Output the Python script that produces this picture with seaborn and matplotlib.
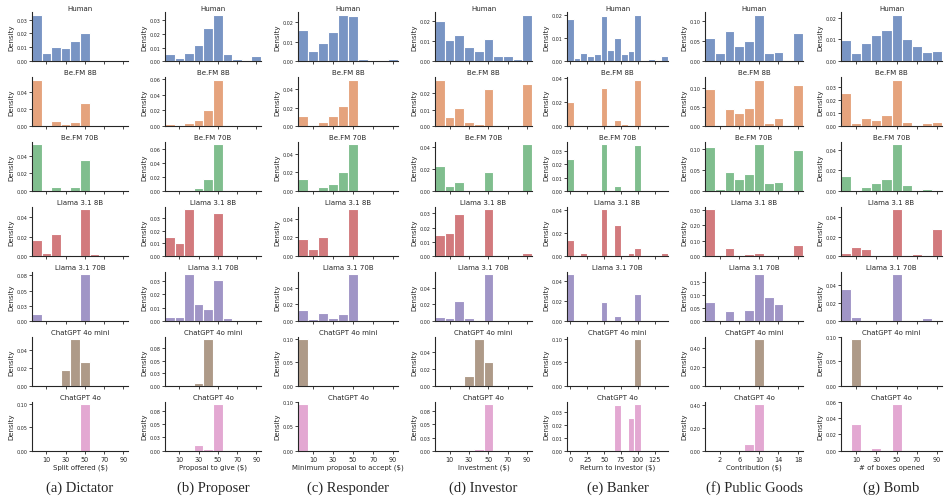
import numpy as np
import pandas as pd
import matplotlib
matplotlib.use("Agg")
import matplotlib.pyplot as plt
from matplotlib.ticker import MaxNLocator, FormatStrFormatter
import seaborn as sns

sns.set_theme(style="ticks")

models = ["Human", "Be.FM 8B", "Be.FM 70B", "Llama 3.1 8B", "Llama 3.1 70B",
          "ChatGPT 4o mini", "ChatGPT 4o"]
captions = ["(a) Dictator", "(b) Proposer", "(c) Responder", "(d) Investor",
            "(e) Banker", "(f) Public Goods", "(g) Bomb"]
xlabels = ["Split offered ($)", "Proposal to give ($)", "Minimum proposal to accept ($)",
           "Investment ($)", "Return to investor ($)", "Contribution ($)", "# of boxes opened"]

# bin centres
dollar_bins = list(range(0, 100, 10))
banker_bins = list(range(0, 150, 10))
goods_bins = list(range(0, 20, 2))

dollar_ticks = [10, 30, 50, 70, 90]
banker_ticks = [0, 25, 50, 75, 100, 125]
goods_ticks = [2, 6, 10, 14, 18]

# densities, one row per model
dictator = [
    [0.0335, 0.0063, 0.0102, 0.0097, 0.0148, 0.0202, 0, 0, 0, 0],
    [0.0545, 0, 0.0055, 0.0025, 0.005, 0.0275, 0, 0, 0, 0],
    [0.053, 0, 0.005, 0, 0.0045, 0.035, 0, 0, 0, 0],
    [0.0168, 0.0035, 0.0223, 0, 0.0008, 0.048, 0.002, 0.0005, 0.0005, 0],
    [0.0115, 0.0005, 0.001, 0, 0.002, 0.077, 0, 0, 0, 0],
    [0, 0, 0, 0.018, 0.052, 0.027, 0, 0, 0, 0],
    [0, 0, 0, 0, 0, 0.1, 0, 0, 0, 0],
]
proposer = [
    [0.0055, 0.0025, 0.006, 0.012, 0.024, 0.034, 0.0055, 0.002, 0, 0.004],
    [0.003, 0, 0.004, 0.0075, 0.021, 0.059, 0.0015, 0, 0, 0],
    [0.0015, 0, 0.0015, 0.005, 0.017, 0.066, 0.001, 0, 0, 0.0015],
    [0.015, 0.0105, 0.037, 0, 0, 0.034, 0, 0, 0, 0],
    [0.003, 0.003, 0.035, 0.013, 0.009, 0.031, 0.0025, 0, 0, 0],
    [0, 0, 0, 0.005, 0.093, 0, 0, 0, 0, 0],
    [0, 0, 0, 0.01, 0.004, 0.0875, 0, 0, 0, 0],
]
responder = [
    [0.0157, 0.005, 0.0095, 0.015, 0.0236, 0.0231, 0.0012, 0, 0, 0.0012],
    [0.0105, 0, 0.0044, 0.011, 0.0215, 0.050, 0, 0, 0, 0],
    [0.0125, 0, 0.0048, 0.008, 0.021, 0.050, 0, 0, 0, 0],
    [0.018, 0.0075, 0.0205, 0, 0, 0.050, 0, 0, 0, 0],
    [0.013, 0.002, 0.010, 0.0033, 0.008, 0.056, 0.0008, 0, 0, 0],
    [0.1, 0, 0, 0, 0, 0, 0, 0, 0, 0],
    [0.0955, 0, 0, 0.0008, 0.0005, 0.0005, 0, 0, 0, 0],
]
investor = [
    [0.0198, 0.0108, 0.0132, 0.0071, 0.0051, 0.0112, 0.0024, 0.0024, 0.001, 0.0232],
    [0.028, 0.0055, 0.0112, 0.0027, 0.0014, 0.0224, 0, 0, 0, 0.0255],
    [0.0222, 0.0046, 0.0086, 0.0012, 0, 0.0172, 0, 0, 0, 0.042],
    [0.0148, 0.0164, 0.0298, 0, 0, 0.0329, 0, 0, 0, 0.0021],
    [0.0045, 0.0037, 0.0237, 0.0033, 0, 0.056, 0, 0, 0, 0],
    [0, 0, 0, 0.012, 0.0553, 0.0287, 0, 0, 0, 0],
    [0, 0, 0, 0, 0.003, 0.089, 0, 0, 0, 0],
]
banker = [
    [0.0185, 0.0015, 0.0035, 0.0025, 0.0033, 0.0198, 0.0047, 0.010, 0.003, 0.0043,
     0.0203, 0, 0.0011, 0, 0.0022],
    [0.0198, 0, 0, 0, 0, 0.0318, 0, 0.005, 0.0015, 0, 0.0385, 0, 0, 0, 0],
    [0.0235, 0, 0, 0, 0, 0.0345, 0, 0.004, 0, 0, 0.034, 0, 0, 0, 0],
    [0.014, 0, 0.0025, 0, 0, 0.041, 0, 0.027, 0, 0.0025, 0.0068, 0, 0, 0, 0.0025],
    [0.0465, 0, 0, 0, 0, 0.019, 0, 0.0045, 0, 0, 0.0265, 0, 0, 0, 0],
    [0, 0, 0, 0, 0, 0, 0, 0, 0, 0, 0.1, 0, 0, 0, 0],
    [0, 0, 0, 0, 0, 0, 0, 0.0355, 0, 0.0255, 0.0365, 0, 0, 0, 0],
]
public_goods = [
    [0.059, 0.022, 0.075, 0.039, 0.050, 0.117, 0.022, 0.023, 0.004, 0.070],
    [0.097, 0, 0.045, 0.035, 0.048, 0.123, 0.008, 0.021, 0, 0.108],
    [0.107, 0.006, 0.046, 0.030, 0.042, 0.112, 0.019, 0.022, 0, 0.099],
    [0.305, 0, 0.052, 0.003, 0.012, 0.020, 0.002, 0, 0, 0.075],
    [0.072, 0, 0.038, 0, 0.042, 0.178, 0.092, 0.065, 0, 0],
    [0, 0, 0, 0, 0, 0.5, 0, 0, 0, 0],
    [0, 0, 0.001, 0, 0.06, 0.41, 0, 0, 0, 0],
]
bomb = [
    [0.0099, 0.0038, 0.0082, 0.0121, 0.0143, 0.0214, 0.0104, 0.0072, 0.0043, 0.0047],
    [0.0255, 0.0024, 0.0066, 0.0047, 0.009, 0.036, 0.0034, 0.001, 0.0026, 0.0032],
    [0.015, 0.001, 0.0042, 0.0081, 0.0114, 0.0452, 0.0062, 0.001, 0.0019, 0],
    [0.0034, 0.0093, 0.0072, 0, 0, 0.048, 0, 0.0024, 0, 0.0276],
    [0.0354, 0.0046, 0, 0, 0, 0.052, 0, 0, 0.003, 0],
    [0, 0.0958, 0, 0, 0, 0, 0, 0, 0, 0],
    [0, 0.0333, 0, 0.0033, 0, 0.0575, 0, 0, 0, 0],
]

games = [dictator, proposer, responder, investor, banker, public_goods, bomb]
game_bins = [dollar_bins, dollar_bins, dollar_bins, dollar_bins, banker_bins, goods_bins, dollar_bins]
game_ticks = [dollar_ticks] * 4 + [banker_ticks, goods_ticks, dollar_ticks]

colors = sns.color_palette("deep", 7)

W, H = 948, 502
fig = plt.figure(figsize=(W / 100, H / 100), dpi=100)

# pixel layout of the grid
col_left = [32, 165, 298, 435, 567, 705, 841]
col_width = [96, 96, 100, 97, 101, 98, 101]
row_bottom0, row_step, ax_h = 62.3, 64.9, 49

for c, data in enumerate(games):
    centers = game_bins[c]
    step = centers[1] - centers[0]
    edges = [x - step / 2 for x in centers] + [centers[-1] + step / 2]
    for r, heights in enumerate(data):
        df = pd.DataFrame({"value": centers, "density": heights})
        bottom_px = row_bottom0 + row_step * r
        ax = fig.add_axes([col_left[c] / W, 1 - bottom_px / H, col_width[c] / W, ax_h / H])
        sns.histplot(data=df, x="value", weights="density", bins=edges, color=colors[r],
                     alpha=0.75, edgecolor="white", linewidth=0.8, ax=ax)
        ax.set_xlim(edges[0], edges[-1])
        ax.set_title(models[r], fontsize=5, pad=2)
        ax.set_ylabel("Density", fontsize=5, labelpad=2)
        ax.yaxis.set_major_locator(MaxNLocator(nbins=4, steps=[1, 2, 2.5, 5, 10]))
        ax.yaxis.set_major_formatter(FormatStrFormatter("%.2f"))
        ax.set_xticks(game_ticks[c])
        ax.tick_params(axis="y", labelsize=3.5, length=2, width=0.6, pad=1)
        ax.tick_params(axis="x", labelsize=4.7, length=2.5, width=0.6, pad=1.5)
        for s in ax.spines.values():
            s.set_linewidth(0.8)
        sns.despine(ax=ax)
        if r == len(data) - 1:
            ax.set_xlabel(xlabels[c], fontsize=5, labelpad=1)
        else:
            ax.set_xlabel("")
            ax.tick_params(axis="x", labelbottom=False)

    cx = (col_left[c] + col_width[c] / 2) / W
    fig.text(cx, 1 - 488 / H, captions[c], family="Liberation Serif", fontsize=10.5,
             ha="center", va="center")

fig.savefig("out.png", dpi=100)
